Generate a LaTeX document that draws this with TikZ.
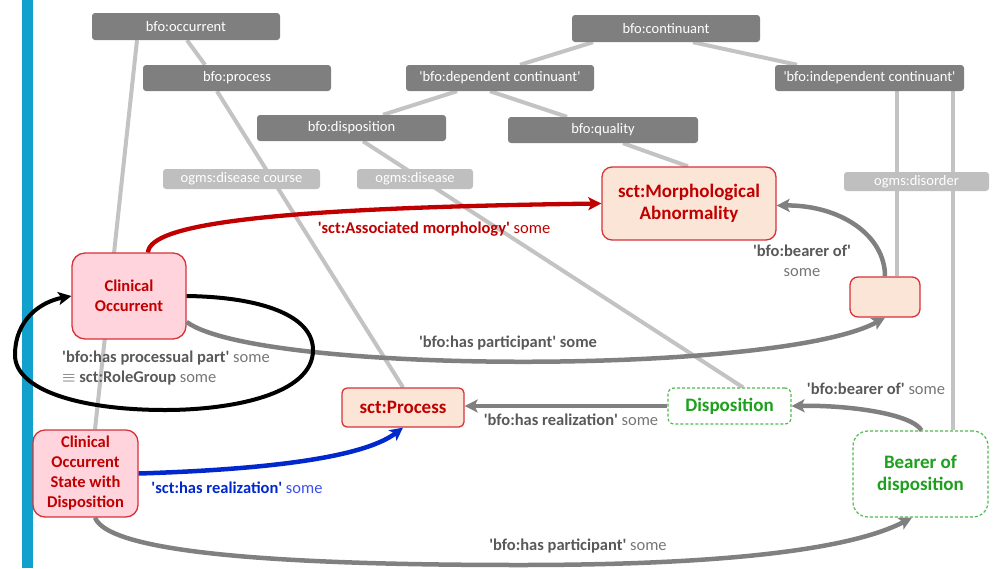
\documentclass[tikz,border=0pt]{standalone}
\usepackage{fontspec}
\setmainfont{Carlito}
\usetikzlibrary{arrows.meta,backgrounds,calc}
\definecolor{dkgray}{RGB}{127,127,127}
\definecolor{ltgray}{RGB}{191,191,191}
\definecolor{linegray}{RGB}{195,195,195}
\definecolor{arrgray}{RGB}{128,128,128}
\definecolor{labgray}{RGB}{89,89,89}
\definecolor{somegray}{RGB}{118,118,118}
\definecolor{pinkf}{RGB}{255,212,220}
\definecolor{peach}{RGB}{251,229,214}
\definecolor{redb}{RGB}{214,50,56}
\definecolor{redt}{RGB}{192,0,0}
\definecolor{greent}{RGB}{30,160,30}
\definecolor{greenb}{RGB}{80,185,80}
\definecolor{bluea}{RGB}{0,40,204}
\definecolor{bluel}{RGB}{60,80,240}
\definecolor{barblue}{RGB}{18,160,204}
\newcommand{\qs}{\textquotesingle}
\begin{document}
\begin{tikzpicture}[x=1pt,y=-1pt,
 dk/.style={fill=dkgray,rounded corners=3pt,text=white,inner sep=0pt,font=\fontsize{14.5}{17}\selectfont},
 lt/.style={fill=ltgray,rounded corners=3pt,text=white,inner sep=0pt,font=\fontsize{14.5}{17}\selectfont},
 redbox/.style={draw=redb,line width=1.3pt,text=redt,inner sep=0pt,align=center},
 greenbox/.style={draw=greenb,dash pattern=on 3pt off 2pt,line width=1.2pt,text=greent,fill=white,inner sep=0pt,align=center,font=\fontsize{19}{22}\selectfont\bfseries},
 hier/.style={draw=linegray,line width=4pt},
 tip/.style={-{Stealth[length=13pt,width=13pt,inset=3pt]}},
 conn/.style={draw=arrgray,line width=4.5pt,tip},
 redarr/.style={draw=redt,line width=4.3pt,tip},
 bluearr/.style={draw=bluea,line width=4.5pt,tip},
 blackarr/.style={draw=black,line width=4pt,tip},
 lab/.style={inner sep=0pt,text=labgray,font=\fontsize{16.5}{20}\selectfont,align=center},
]
\useasboundingbox (0,0) rectangle (996,568);

% gray hierarchy boxes
\node[dk,minimum width=188pt,minimum height=27pt] (occ) at (186,26.5) {bfo:occurrent};
\node[dk,minimum width=188pt,minimum height=26pt] (proc) at (237,78) {bfo:process};
\node[dk,minimum width=188pt,minimum height=26pt] (dep) at (500,78) {\qs bfo:dependent continuant\qs};
\node[dk,minimum width=188pt,minimum height=27pt] (cont) at (666,28.5) {bfo:continuant};
\node[dk,minimum width=189pt,minimum height=26pt] (indep) at (869.5,78) {\qs bfo:independent continuant\qs};
\node[dk,minimum width=189pt,minimum height=26pt] (disp) at (351.5,128) {bfo:disposition};
\node[dk,minimum width=190pt,minimum height=26pt] (qual) at (603,130) {bfo:quality};
\node[lt,minimum width=157pt,minimum height=20pt] (dcourse) at (241.5,179) {ogms:disease course};
\node[lt,minimum width=116pt,minimum height=20pt] (disease) at (415,179) {ogms:disease};
\node[lt,minimum width=145pt,minimum height=19pt] (disorder) at (916.5,181.5) {ogms:disorder};

% main boxes
\node[redbox,fill=peach,rounded corners=10pt,minimum width=174pt,minimum height=73pt,font=\fontsize{19}{22}\selectfont\bfseries] (morph) at (689,203.5) {sct:Morphological\\Abnormality};
\node[redbox,fill=peach,rounded corners=8pt,minimum width=70pt,minimum height=40pt] (small) at (885,297) {};
\node[redbox,fill=pinkf,rounded corners=13pt,minimum width=114pt,minimum height=86pt,font=\fontsize{16.5}{20}\selectfont\bfseries] (co) at (129,296) {Clinical\\Occurrent};
\node[redbox,fill=peach,rounded corners=5pt,minimum width=122pt,minimum height=39pt,font=\fontsize{19}{22}\selectfont\bfseries] (process) at (403,407.5) {sct:Process};
\node[greenbox,rounded corners=6pt,minimum width=123pt,minimum height=36pt] (dispo) at (729.5,406) {Disposition};
\node[greenbox,rounded corners=15pt,minimum width=135pt,minimum height=86pt] (bearer) at (920.5,474) {Bearer of\\disposition};
\node[redbox,fill=pinkf,rounded corners=12pt,minimum width=105pt,minimum height=87pt,font=\fontsize{16.5}{20}\selectfont\bfseries] (cosd) at (85.5,473.5) {Clinical\\Occurrent\\State with\\Disposition};

\begin{scope}[on background layer]
\fill[barblue] (22,0) rectangle (33,568);
\draw[hier] ($(occ.south)+(-49,0)$) -- ($(cosd.north)+(9.5,0)$);
\draw[hier] ($(occ.south)+(1,0)$) -- ($(proc.north)+(-32,0)$);
\draw[hier] ($(proc.south)+(-20,0)$) -- (process.north);
\draw[hier] ($(dep.south)+(-43,0)$) -- ($(disp.north)+(31.5,0)$);
\draw[hier] ($(dep.south)+(-10,0)$) -- ($(qual.north)+(-36,0)$);
\draw[hier] ($(cont.south)+(-73,0)$) -- ($(dep.north)+(20,0)$);
\draw[hier] ($(cont.south)+(27,0)$) -- ($(indep.north)+(-72.5,0)$);
\draw[hier] ($(qual.south)+(20,0)$) -- ($(morph.north)+(-1,0)$);
\draw[hier] ($(disp.south)+(11.5,0)$) -- ($(dispo.north)+(13.5,0)$);
\draw[hier] ($(indep.south)+(27.5,0)$) -- ($(small.north)+(12,0)$);
\draw[hier] ($(indep.south)+(83.5,0)$) -- ($(bearer.north)+(32.5,0)$);
\end{scope}

% connectors
\draw[redarr] ($(co.north)+(19,0)$) .. controls (150,225) and (260,208) .. (morph.west);
\draw[conn] ($(co.east)+(0,26)$) .. controls (260,375) and (780,375) .. (small.south);
\draw[conn] (small.north) .. controls (885,235) and (840,205) .. ($(morph.east)+(0,2)$);
\draw[blackarr] (co.east) .. controls (260,297) and (313,315) .. (313,350)
  .. controls (313,395) and (230,410) .. (165,410)
  .. controls (80,410) and (15,390) .. (15,355)
  .. controls (15,320) and (40,302) .. (co.west);
\draw[conn] (dispo.west) -- (dispo.west -| process.east);
\draw[conn] ($(bearer.north)+(1,0)$) .. controls (912,414) and (850,405) .. (dispo.east);
\draw[bluearr] (cosd.east) .. controls (250,470) and (360,460) .. (process.south);
\draw[conn] ($(cosd.south)+(9.5,0)$) .. controls (110,555) and (300,565) .. (520,565)
  .. controls (720,565) and (850,550) .. ($(bearer.south)+(-8.5,0)$);

% labels
\node[lab,text=redt] (lassoc) at (434,229) {\textbf{\qs sct:Associated morphology\qs} some};
\node[lab] (lbear1) at (802,261) {\textbf{\qs bfo:bearer of\qs}\\\textcolor{somegray}{some}};
\node[lab] (lpart1) at (508,343) {\textbf{\qs bfo:has participant\qs\ some}};
\node[lab,anchor=west,align=left] (lproc) at (62,368) {\textbf{\qs bfo:has processual part\qs} \textcolor{somegray}{some}\\$\equiv$ \textbf{sct:RoleGroup} \textcolor{somegray}{some}};
\node[lab] (lreal) at (571,420) {\textbf{\qs bfo:has realization\qs} \textcolor{somegray}{some}};
\node[lab] (lbear2) at (876,389) {\textbf{\qs bfo:bearer of\qs} \textcolor{somegray}{some}};
\node[lab,text=bluea] (lsreal) at (237,488) {\textbf{\qs sct:has realization\qs} \textcolor{bluel}{some}};
\node[lab] (lpart2) at (578,546) {\textbf{\qs bfo:has participant\qs} \textcolor{somegray}{some}};
\end{tikzpicture}
\end{document}
